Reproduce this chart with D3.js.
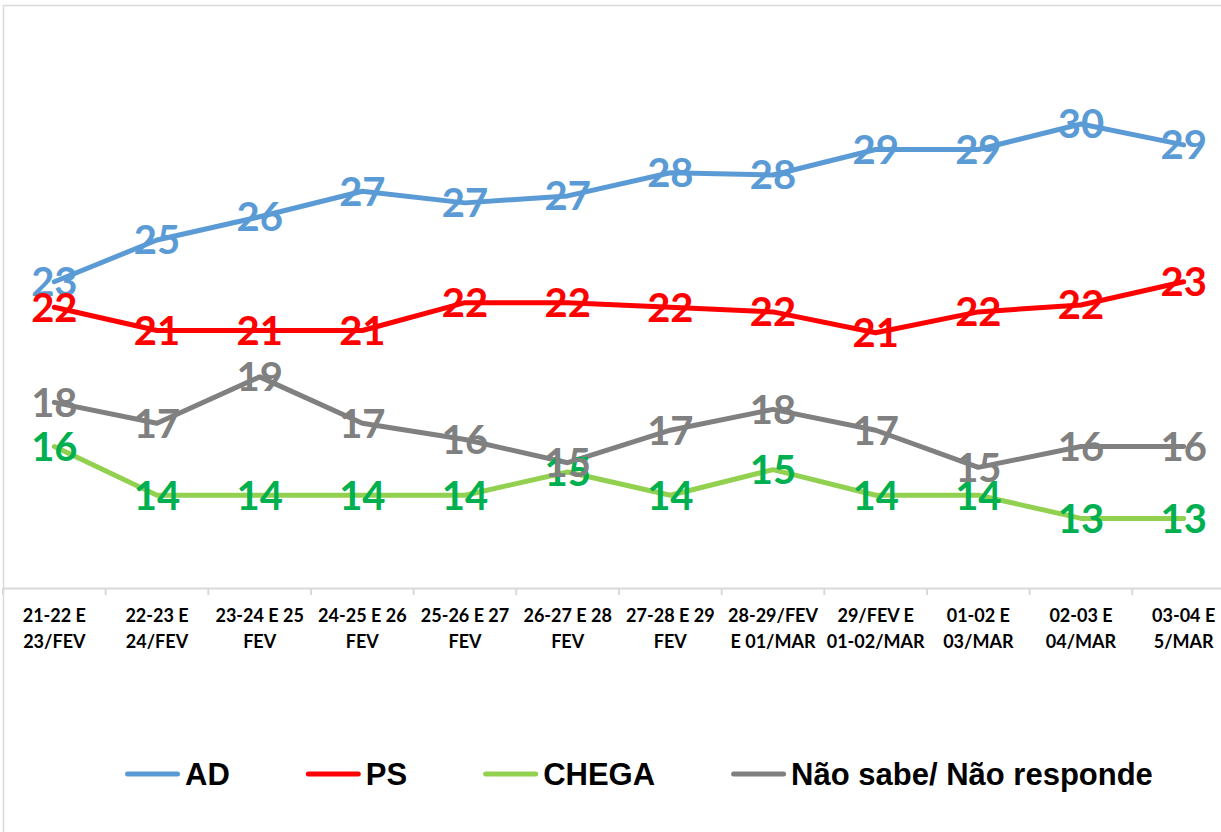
<!DOCTYPE html>
<html>
<head>
<meta charset="utf-8">
<script src="https://cdn.jsdelivr.net/npm/d3@7"></script>
<style>
  body { margin: 0; background: #fff; }
  svg { display: block; }
  text { font-family: Lato, "Open Sans", sans-serif; font-weight: bold; }
  .legend text { font-family: "Liberation Sans", Arial, sans-serif; }
</style>
</head>
<body>
<svg id="chart" width="1221" height="832"></svg>
<script>
// poll dates (two lines each)
const categories = [
  "21-22 E\n23/FEV", "22-23 E\n24/FEV", "23-24 E 25\nFEV", "24-25 E 26\nFEV",
  "25-26 E 27\nFEV", "26-27 E 28\nFEV", "27-28 E 29\nFEV", "28-29/FEV\nE 01/MAR",
  "29/FEV E\n01-02/MAR", "01-02 E\n03/MAR", "02-03 E\n04/MAR", "03-04 E\n5/MAR"
];

const seriesNames = ["AD", "PS", "CHEGA", "Não sabe/ Não responde"];
const adValues    = [23.2, 25.0, 26.0, 27.1, 26.6, 26.9, 27.9, 27.8, 28.9, 28.9, 30.0, 29.1];
const psValues    = [22.1, 21.1, 21.1, 21.1, 22.3, 22.3, 22.1, 21.9, 21.0, 21.9, 22.2, 23.2];
const chegaValues = [16.1, 14.0, 14.0, 14.0, 14.0, 15.0, 14.0, 15.1, 14.0, 14.0, 13.0, 13.0];
const nsnrValues  = [18.0, 17.1, 19.1, 17.1, 16.4, 15.4, 16.8, 17.7, 16.8, 15.2, 16.1, 16.1];

const lineColors  = ["#5B9BD5", "#FF0000", "#92D050", "#808080"];
const labelColors = ["#5B9BD5", "#FF0000", "#00B050", "#808080"];

const series = seriesNames.map((name, i) => ({
  name,
  values: [adValues, psValues, chegaValues, nsnrValues][i],
  line: lineColors[i],
  label: labelColors[i]
}));

const svg = d3.select("#chart");

// chart frame (cropped on the right and bottom in the original)
svg.append("rect")
  .attr("x", 3.5).attr("y", 5.5)
  .attr("width", 1245).attr("height", 840)
  .attr("fill", "#fff")
  .attr("stroke", "#D9D9D9")
  .attr("stroke-width", 1.5);

const x = d3.scaleBand().domain(categories).range([3, 1235]).padding(0);
const y = d3.scaleLinear().domain([10, 32]).range([588, 77.6]);
const cx = c => x(c) + x.bandwidth() / 2;

// x axis
const axisY = 588;
const axis = svg.append("g")
  .attr("transform", `translate(0,${axisY})`)
  .call(d3.axisBottom(x).tickSize(0).tickSizeOuter(0));

axis.select(".domain").attr("stroke", "#D9D9D9").attr("stroke-width", 2);
axis.selectAll(".tick text").each(function(d) {
  const t = d3.select(this).text(null)
    .attr("y", 0).attr("dy", null)
    .attr("fill", "#000")
    .style("font-size", "18px");
  d.split("\n").forEach((line, i) => {
    t.append("tspan").attr("x", 0).attr("y", 34 + i * 26).text(line);
  });
});

// tick marks between categories
axis.selectAll("line.divider")
  .data(categories.concat(["__end"]))
  .enter().append("line")
  .attr("class", "divider")
  .attr("x1", (d, i) => i < categories.length ? x(d) : x.range()[1])
  .attr("x2", (d, i) => i < categories.length ? x(d) : x.range()[1])
  .attr("y1", 0).attr("y2", 7)
  .attr("stroke", "#D9D9D9").attr("stroke-width", 2);

// lines
const line = d3.line()
  .x((d, i) => cx(categories[i]))
  .y(d => y(d));

svg.selectAll("path.series")
  .data(series)
  .enter().append("path")
  .attr("class", "series")
  .attr("d", d => line(d.values))
  .attr("fill", "none")
  .attr("stroke", d => d.line)
  .attr("stroke-width", 5)
  .attr("stroke-linejoin", "round")
  .attr("stroke-linecap", "round");

// data labels
const fmt = d3.format(".0f");
series.forEach(s => {
  svg.append("g").selectAll("text")
    .data(s.values)
    .enter().append("text")
    .attr("x", (d, i) => cx(categories[i]))
    .attr("y", d => y(d))
    .attr("dy", "0.36em")
    .attr("text-anchor", "middle")
    .attr("fill", s.label)
    .style("font-size", "40px")
    .text(d => fmt(d));
});

// legend
const legend = svg.append("g").attr("class", "legend").attr("transform", "translate(125,774)");
let lx = 0;
series.forEach(s => {
  const item = legend.append("g").attr("transform", `translate(${lx},0)`);
  item.append("line")
    .attr("x1", 2.5).attr("x2", 52.5)
    .attr("stroke", s.line)
    .attr("stroke-width", 5)
    .attr("stroke-linecap", "round");
  const t = item.append("text")
    .attr("x", 60).attr("y", 11)
    .attr("fill", "#000")
    .style("font-size", "31px")
    .text(s.name);
  lx += 60 + t.node().getComputedTextLength() + 76;
});
</script>
</body>
</html>
